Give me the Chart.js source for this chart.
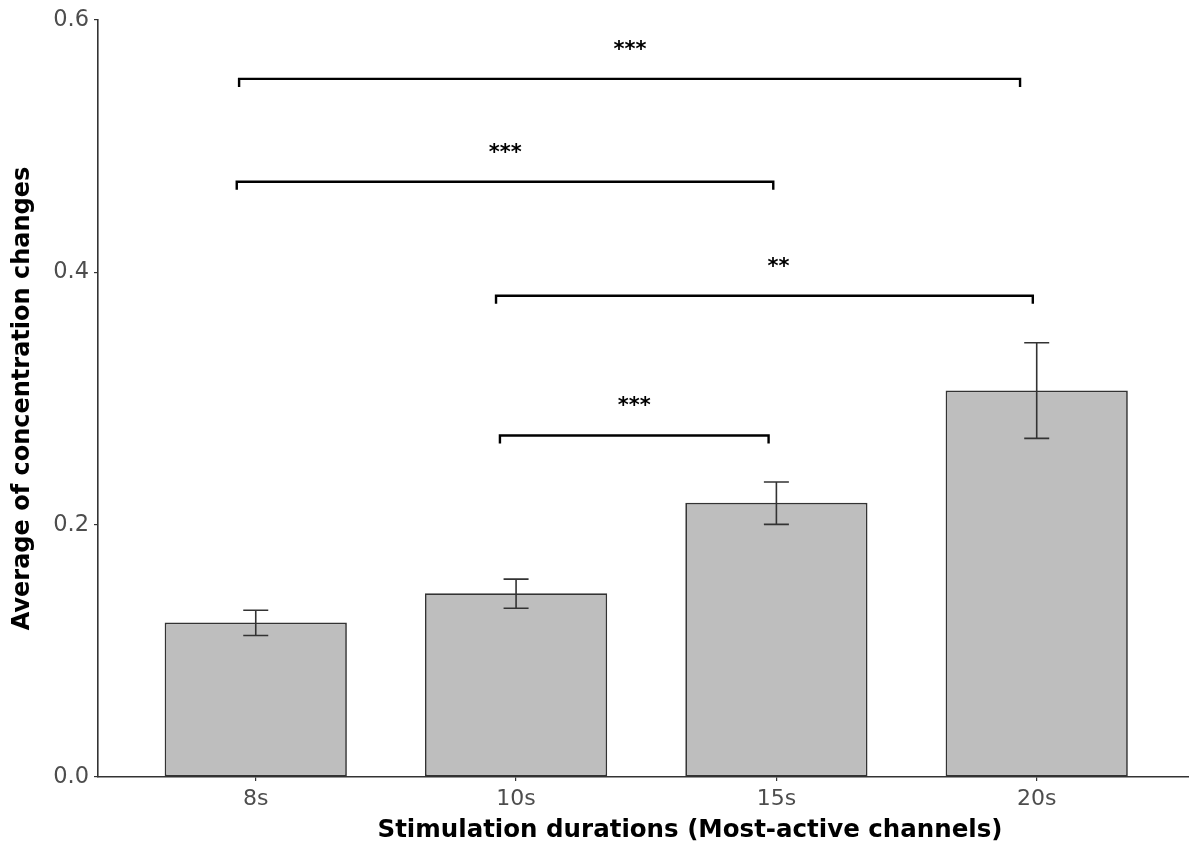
<!DOCTYPE html>
<html>
<head>
<meta charset="utf-8">
<script src="https://cdn.jsdelivr.net/npm/chart.js@4.4.1/dist/chart.umd.min.js"></script>
<style>
  html, body { margin: 0; padding: 0; background: #ffffff; }
  #wrap { width: 1189px; height: 846px; }
</style>
</head>
<body>
<div id="wrap"><canvas id="c" width="1189" height="846"></canvas></div>
<script>
// ---- data ----
const categories = ['8s', '10s', '15s', '20s'];
const categoryPos = [1, 2, 3, 4];
const means = [0.1224, 0.1457, 0.2173, 0.3064];
const errLow = [0.1121, 0.1338, 0.2002, 0.2684];
const errHigh = [0.1322, 0.1568, 0.2338, 0.3442];

const bracketStart = [0.936, 0.927, 1.923, 1.938];
const bracketEnd = [3.936, 2.988, 3.985, 2.970];
const bracketY = [0.5533, 0.4718, 0.3814, 0.2707];
const bracketLabels = ['***', '***', '**', '***'];
const bracketLabelX = [2.438, 1.958, 3.008, 2.454];

const yTicks = [0, 0.2, 0.4, 0.6];
const xTitle = 'Stimulation durations (Most-active channels)';
const yTitle = 'Average of concentration changes';

const FONT = "'DejaVu Sans', sans-serif";

const overlay = {
  id: 'overlay',
  afterDatasetsDraw(chart) {
    const ctx = chart.ctx;
    const xs = chart.scales.x, ys = chart.scales.y;
    ctx.save();
    // error bars
    ctx.strokeStyle = '#333333';
    ctx.lineWidth = 1.6;
    for (let i = 0; i < categories.length; i++) {
      const px = xs.getPixelForValue(categoryPos[i]);
      const lo = ys.getPixelForValue(errLow[i]);
      const hi = ys.getPixelForValue(errHigh[i]);
      ctx.beginPath();
      ctx.moveTo(px, lo); ctx.lineTo(px, hi);
      ctx.moveTo(px - 12.5, lo); ctx.lineTo(px + 12.5, lo);
      ctx.moveTo(px - 12.5, hi); ctx.lineTo(px + 12.5, hi);
      ctx.stroke();
    }
    // significance brackets
    ctx.strokeStyle = '#000000';
    ctx.lineWidth = 2.4;
    ctx.lineJoin = 'miter';
    ctx.fillStyle = '#000000';
    ctx.font = 'bold 21px ' + FONT;
    ctx.textAlign = 'center';
    ctx.textBaseline = 'alphabetic';
    for (let i = 0; i < bracketY.length; i++) {
      const x1 = xs.getPixelForValue(bracketStart[i]);
      const x2 = xs.getPixelForValue(bracketEnd[i]);
      const y = ys.getPixelForValue(bracketY[i]);
      ctx.beginPath();
      ctx.moveTo(x1, y + 8);
      ctx.lineTo(x1, y);
      ctx.lineTo(x2, y);
      ctx.lineTo(x2, y + 8);
      ctx.stroke();
      ctx.fillText(bracketLabels[i], xs.getPixelForValue(bracketLabelX[i]), y - 23);
    }
    // x axis title (centred on the full panel as in the source figure)
    ctx.font = 'bold 24.5px ' + FONT;
    ctx.textBaseline = 'middle';
    ctx.fillText(xTitle, 690, 831);
    ctx.restore();
  }
};

new Chart(document.getElementById('c'), {
  type: 'bar',
  data: {
    datasets: [{
      data: categoryPos.map((x, i) => ({ x: x, y: means[i] })),
      backgroundColor: '#BEBEBE',
      borderColor: '#333333',
      borderWidth: 1.7,
      borderSkipped: false,
      barPercentage: 0.7,
      categoryPercentage: 1.0
    }]
  },
  options: {
    responsive: false,
    animation: false,
    devicePixelRatio: 1,
    layout: { padding: { top: 20, right: 0, left: 0, bottom: 0 } },
    plugins: { legend: { display: false }, tooltip: { enabled: false } },
    scales: {
      x: {
        type: 'linear',
        offset: false,
        min: 0.394,
        max: 4.585,
        afterBuildTicks(scale) { scale.ticks = categoryPos.map(v => ({ value: v })); },
        afterFit(scale) { scale.height = 69; },
        grid: { display: true, offset: false, drawOnChartArea: false, tickLength: 4, color: '#333333', lineWidth: 1.2 },
        border: { display: true, color: '#333333', width: 1.6 },
        ticks: {
          padding: 5,
          color: '#4D4D4D',
          font: { family: FONT, size: 22 },
          callback(v) { const i = categoryPos.indexOf(v); return i >= 0 ? categories[i] : ''; }
        },
        title: { display: false }
      },
      y: {
        min: 0,
        max: 0.6,
        afterBuildTicks(scale) { scale.ticks = yTicks.map(v => ({ value: v })); },
        afterFit(scale) { scale.width = 98; },
        grid: { display: true, drawOnChartArea: false, tickLength: 4, color: '#333333', lineWidth: 1.2 },
        border: { display: true, color: '#333333', width: 1.6 },
        ticks: {
          padding: 5,
          color: '#4D4D4D',
          font: { family: FONT, size: 22.5 },
          callback(v) { return Number(v).toFixed(1); }
        },
        title: {
          display: true,
          text: yTitle,
          color: '#000000',
          font: { family: FONT, size: 24, weight: 'bold' },
          padding: { top: 8, bottom: 0 }
        }
      }
    }
  },
  plugins: [overlay]
});
</script>
</body>
</html>
